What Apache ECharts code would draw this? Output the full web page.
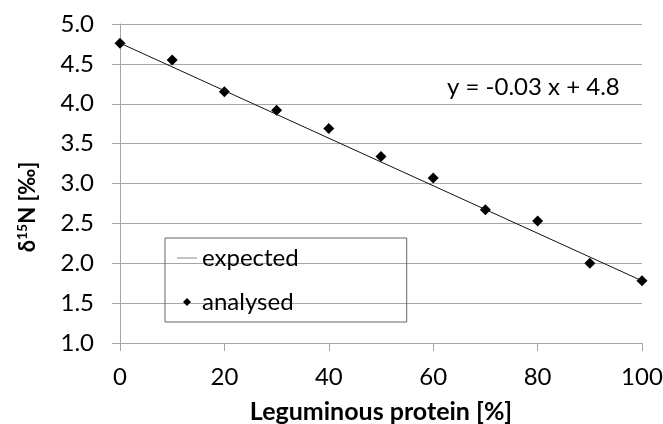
<!DOCTYPE html>
<html>
<head>
<meta charset="utf-8">
<script src="https://cdn.jsdelivr.net/npm/echarts@6/dist/echarts.min.js"></script>
<style>
    html, body { margin: 0; padding: 0; background: #fff; }
    #chart { width: 663px; height: 424px; }
</style>
</head>
<body>
<div id="chart"></div>
<script>
// data
var protein = [0, 10, 20, 30, 40, 50, 60, 70, 80, 90, 100];
var analysed = [4.76, 4.55, 4.15, 3.92, 3.69, 3.34, 3.07, 2.67, 2.53, 2.00, 1.78];
var expectedX = [0, 100];
var expectedY = [4.76, 1.78];
var equationText = 'y = -0.03 x + 4.8';

(function () {
    var font = 'Lato, "Open Sans", sans-serif';
    var gray = '#a6a6a6';

    var chart = echarts.init(document.getElementById('chart'), null, { renderer: 'canvas' });

    function pairs(xs, ys) {
        return xs.map(function (x, i) { return [x, ys[i]]; });
    }

    chart.setOption({
        animation: false,
        backgroundColor: '#fff',
        grid: { left: 120, right: 21, top: 24, bottom: 81, outerBoundsMode: 'none', containLabel: false },
        xAxis: {
            type: 'value',
            min: 0,
            max: 100,
            interval: 20,
            name: 'Leguminous protein [%]',
            nameLocation: 'middle',
            nameGap: 56,
            nameTextStyle: { fontFamily: font, fontSize: 25, fontWeight: 'bold', color: '#000' },
            axisLine: { lineStyle: { color: gray, width: 1 } },
            axisTick: { show: true, length: 8, lineStyle: { color: gray } },
            axisLabel: { margin: 22, fontFamily: font, fontSize: 24, color: '#000' },
            splitLine: { show: false }
        },
        yAxis: {
            type: 'value',
            min: 1,
            max: 5,
            interval: 0.5,
            axisLine: { show: true, lineStyle: { color: gray, width: 1 } },
            axisTick: { show: true, length: 8, lineStyle: { color: gray } },
            axisLabel: {
                margin: 26,
                fontFamily: font,
                fontSize: 24,
                color: '#000',
                formatter: function (v) { return v.toFixed(1); }
            },
            splitLine: { lineStyle: { color: gray, width: 1 } }
        },
        legend: {
            orient: 'vertical',
            left: 165,
            top: 238,
            padding: [8, 108, 8, 12],
            borderColor: '#666',
            borderWidth: 1,
            itemWidth: 20,
            itemHeight: 8,
            itemGap: 20,
            symbolKeepAspect: true,
            textStyle: { fontFamily: font, fontSize: 24, color: '#000', lineHeight: 24 },
            data: [
                {
                    name: 'expected',
                    icon: 'path://M0,0H20V1H0Z',
                    itemStyle: { color: '#888' },
                    lineStyle: { color: '#888', width: 1 }
                },
                { name: 'analysed', icon: 'path://M5,0L10,5L5,10L0,5Z', itemStyle: { color: '#000', opacity: 1 } }
            ]
        },
        graphic: [
            {
                type: 'text',
                left: 447,
                top: 75,
                style: { text: equationText, fontFamily: font, fontSize: 24, fill: '#000' }
            },
            {
                type: 'text',
                x: 28,
                y: 207,
                rotation: Math.PI / 2,
                style: {
                    text: '{d|δ}{s|15}{d|N [‰]}',
                    align: 'center',
                    verticalAlign: 'middle',
                    rich: {
                        d: { fontFamily: font, fontSize: 22, fontWeight: 'bold', fill: '#000', lineHeight: 26 },
                        s: { fontFamily: font, fontSize: 14, fontWeight: 'bold', fill: '#000', verticalAlign: 'top', lineHeight: 26 }
                    }
                }
            }
        ],
        series: [
            {
                name: 'expected',
                type: 'line',
                data: pairs(expectedX, expectedY),
                symbol: 'none',
                lineStyle: { color: '#111', width: 1 },
                itemStyle: { color: '#888' }
            },
            {
                name: 'analysed',
                type: 'scatter',
                data: pairs(protein, analysed),
                symbol: 'diamond',
                symbolSize: 11,
                itemStyle: { color: '#000', opacity: 1 }
            }
        ]
    });
})();
</script>
</body>
</html>
